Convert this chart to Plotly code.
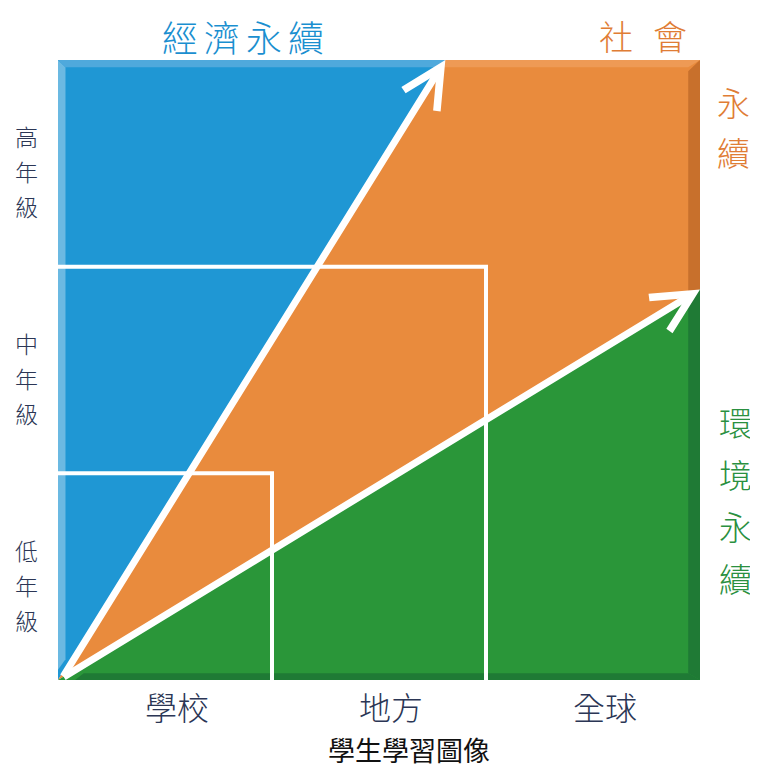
import plotly.graph_objects as go

# ---------------- data ----------------
columns = ["學校", "地方", "全球"]          # x categories (scope)
rows = ["低年級", "中年級", "高年級"]        # y categories (grade)
econ_tip_x = 1.81      # where the economic arrow reaches the top (x, at y=3)
env_tip_y = 1.89       # where the environment arrow reaches the right edge (y, at x=3)
title_econ = "經濟永續"
title_soc_top = "社會"
title_soc_side = "永續"
title_env = "環境永續"
bottom_title = "學生學習圖像"

BLUE = "#1f97d4"
ORANGE = "#e98b3d"
GREEN = "#2a9639"
DARK_ORANGE = "#c8702c"
DARK_GREEN = "#1f7a35"
NAVY = "#2b3655"
FONT = "Noto Sans CJK TC"

nx = len(columns)
ny = len(rows)

fig = go.Figure()

def poly(xs, ys, color):
    fig.add_trace(go.Scatter(x=xs + [xs[0]], y=ys + [ys[0]], mode="lines",
                             fill="toself", fillcolor=color,
                             line=dict(width=0, color=color),
                             hoverinfo="skip", showlegend=False))

# main regions
poly([0, 0, econ_tip_x], [0, ny, ny], BLUE)
poly([0, econ_tip_x, nx, nx], [0, ny, ny, env_tip_y], ORANGE)
poly([0, nx, nx], [0, env_tip_y, 0], GREEN)

# bevel strips (darker / lighter edges)
bev = 0.055
poly([nx - bev, nx, nx, nx - bev], [env_tip_y - 0.02, env_tip_y, ny, ny - bev], DARK_ORANGE)
poly([nx - bev, nx, nx, nx - bev], [bev * 0.6, 0, env_tip_y, env_tip_y - 0.02], DARK_GREEN)
poly([0.12, nx - bev, nx, 0.08], [bev * 0.6, bev * 0.6, 0, 0], DARK_GREEN)
poly([0, 0.035, 0.035, 0], [0.05, 0.1, ny - 0.035, ny], "#6bb9e2")
poly([0, econ_tip_x, econ_tip_x - 0.02, 0.035], [ny, ny, ny - 0.035, ny - 0.035], "#4fa9dc")
poly([econ_tip_x, nx, nx - bev, econ_tip_x - 0.02], [ny, ny, ny - 0.035, ny - 0.035], "#ee9a55")

# white nested rectangles (grade x scope)
for k in range(1, nx):
    fig.add_trace(go.Scatter(x=[0, k, k], y=[k, k, 0], mode="lines",
                             line=dict(color="white", width=4),
                             hoverinfo="skip", showlegend=False))

# arrows
for tx, ty in [(econ_tip_x, ny), (nx, env_tip_y)]:
    fig.add_annotation(x=tx, y=ty, ax=0.02, ay=0.01, xref="x", yref="y",
                       axref="x", ayref="y", showarrow=True, arrowhead=5,
                       arrowsize=1.1, arrowwidth=7, arrowcolor="white", text="")

# page offset: the browser body adds an 8px margin
OFF = 8
W, H = 758 - OFF, 772 - OFF
L, R, T, B = 58 - OFF, 58, 60 - OFF, 92
PW, PH = 642, 620

def px(x):
    return (x - 58) / PW

def py(y):
    return (680 - y) / PH

def txt(s, xpix, ypix, size, color, weight=300):
    fig.add_annotation(x=px(xpix), y=py(ypix), xref="paper", yref="paper", text=s,
                       showarrow=False, xanchor="center", yanchor="middle",
                       font=dict(family=FONT, size=size, color=color, weight=weight))

def vtext(s, xpix, ytop, step, size, color):
    for j, ch in enumerate(s):
        txt(ch, xpix, ytop + j * step, size, color)

def htext(s, xleft, ypix, step, size, color):
    for j, ch in enumerate(s):
        txt(ch, xleft + j * step, ypix, size, color)

# left grade labels
for i, lab in enumerate(rows):
    for j, ch in enumerate(lab):
        fig.add_annotation(x=px(26), y=i + 0.5, xref="paper", yref="y", text=ch,
                           showarrow=False, xanchor="center", yanchor="middle",
                           yshift=(1 - j) * 35 - 8,
                           font=dict(family=FONT, size=23, color=NAVY, weight=300))

# bottom scope labels
for i, lab in enumerate(columns):
    fig.add_annotation(x=i + 0.5, y=0, xref="x", yref="paper", text=lab,
                       showarrow=False, xanchor="center", yanchor="top",
                       xshift=12, yshift=-1,
                       font=dict(family=FONT, size=32, color=NAVY, weight=300))

# titles
htext(title_econ, 180, 36, 42, 36, "#1a8fd0")
htext(title_soc_top, 616, 36, 54, 34, "#e07d35")
vtext(title_soc_side, 734, 102, 50, 33, "#e07d35")
vtext(title_env, 735, 422, 52, 33, "#2a9040")
txt(bottom_title, 409, 750, 27, "#111111", weight=400)

fig.update_layout(
    width=W, height=H,
    margin=dict(l=L, r=R, t=T, b=B),
    paper_bgcolor="white", plot_bgcolor="white",
    xaxis=dict(range=[0, nx], visible=False, fixedrange=True),
    yaxis=dict(range=[0, ny], visible=False, fixedrange=True),
    showlegend=False,
)

fig.write_html("out.html")
